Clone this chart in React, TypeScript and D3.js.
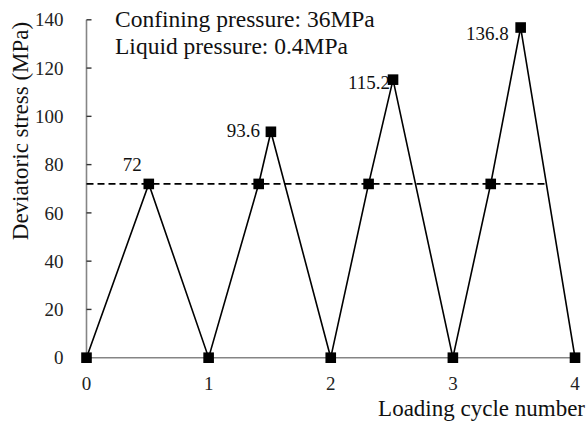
import React from "react";
import * as d3 from "d3";

const cycle = [0, 0.51, 1, 1.41, 1.51, 2, 2.31, 2.51, 3, 3.31, 3.555, 4];
const stress = [0, 72, 0, 72, 93.6, 0, 72, 115.2, 0, 72, 136.8, 0];
const yTicks = [0, 20, 40, 60, 80, 100, 120, 140];
const xTicks = [0, 1, 2, 3, 4];
const refLevel = 72;
const refEnd = 3.77;
const peakLabels = [
  { x: 0.51, y: 72, text: "72" },
  { x: 1.51, y: 93.6, text: "93.6" },
  { x: 2.51, y: 115.2, text: "115.2" },
  { x: 3.555, y: 136.8, text: "136.8" },
];
const notes = ["Confining pressure: 36MPa", "Liquid pressure: 0.4MPa"];

const FONT = "Liberation Serif, DejaVu Serif, serif";

export default function App() {
  const x = d3.scaleLinear().domain([0, 4]).range([86.5, 575]);
  const y = d3.scaleLinear().domain([0, 140]).range([357.7, 19.8]);
  const pts = cycle.map((c, i) => [c, stress[i]] as [number, number]);
  const line = d3
    .line<[number, number]>()
    .x((d) => x(d[0]))
    .y((d) => y(d[1]));
  const labelOffsets = [
    { dx: -7, dy: -13 },
    { dx: -11, dy: 5 },
    { dx: -3, dy: 9 },
    { dx: -12, dy: 12 },
  ];
  const ts = { fontFamily: FONT, fontVariantLigatures: "none" as const };
  return (
    <svg
      width={588}
      height={423}
      style={{ position: "absolute", left: 0, top: 0, background: "#fff", fontFamily: FONT }}
    >
      <rect width={588} height={423} fill="#fff" />
      <line x1={x(0)} x2={x(4)} y1={y(0)} y2={y(0)} stroke="#858585" strokeWidth={1.6} />
      <line x1={x(0)} x2={x(0)} y1={y(0)} y2={y(140)} stroke="#858585" strokeWidth={1.6} />
      {yTicks.map((t) => (
        <g key={t}>
          <line x1={x(0)} x2={x(0) + 5} y1={y(t)} y2={y(t)} stroke="#333" strokeWidth={1.4} />
          <text style={ts} x={63.5} y={y(t)} dy="0.35em" textAnchor="end" fontSize={19} fill="#222">
            {t}
          </text>
        </g>
      ))}
      {xTicks.map((t) => (
        <text style={ts} key={t} x={x(t)} y={390} textAnchor="middle" fontSize={19} fill="#222">
          {t}
        </text>
      ))}
      <text style={ts} x={585} y={416} textAnchor="end" fontSize={23} fill="#111">
        Loading cycle number
      </text>
      <text
        style={ts}
        transform={`translate(28,131) rotate(-90)`}
        textAnchor="middle"
        fontSize={23}
        fill="#111"
      >
        Deviatoric stress (MPa)
      </text>
      <line
        x1={x(0)}
        x2={x(refEnd)}
        y1={y(refLevel)}
        y2={y(refLevel)}
        stroke="#000"
        strokeWidth={1.6}
        strokeDasharray="7,4"
      />
      <path d={line(pts) || ""} fill="none" stroke="#000" strokeWidth={1.6} />
      {peakLabels.map((p, i) => (
        <text
          style={ts}
          key={p.text}
          x={x(p.x) + labelOffsets[i].dx}
          y={y(p.y) + labelOffsets[i].dy}
          textAnchor="end"
          fontSize={19}
          fill="#111"
        >
          {p.text}
        </text>
      ))}
      {pts.map((d, i) => (
        <rect key={i} x={x(d[0]) - 5.3} y={y(d[1]) - 5.3} width={10.6} height={10.6} fill="#000" />
      ))}
      {notes.map((n, i) => (
        <text style={ts} key={n} x={115} y={27 + i * 26.5} fontSize={23.5} fill="#111">
          {n}
        </text>
      ))}
    </svg>
  );
}
